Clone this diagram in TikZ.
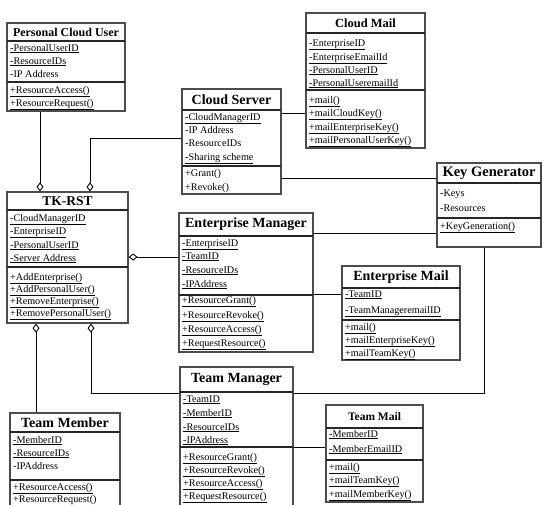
\documentclass[tikz,border=0pt]{standalone}
\usepackage{fontspec}
\setmainfont{Liberation Serif}
\usetikzlibrary{arrows.meta,fit}
\tikzset{
  box/.style={draw=black!70, line width=1.3pt, fill=white, inner sep=0pt},
  sepline/.style={black!85, line width=1.4pt},
  ttl/.style={inner sep=0pt},
  itm/.style={font=\fontsize{10.2}{11}\selectfont, inner sep=0pt, anchor=base west},
  conn/.style={black, line width=0.9pt},
  agg/.style={conn, -{Diamond[open, length=9pt, width=7pt, line width=0.9pt]}},
}
\newcounter{itmc}
\newcommand\umlbox[9]{% name x1 y1 x2 y2 ytitle ysep titlesize title
  \node[box, fit={(#2,#3) (#4,#5)}] (#1) {};
  \draw[sepline] (#2,#6) -- (#4,#6);
  \draw[sepline] (#2,#7) -- (#4,#7);
  \path (#2,#3) -- (#4,#6) node[ttl, midway, font=\bfseries\fontsize{#8}{#8}\selectfont] (#1t) {#9};
}
\newcommand\itm[3]{\stepcounter{itmc}\node[itm] (i\theitmc) at (#1,#2) {#3};}
\newcommand\uu[1]{\underline{#1}}
\begin{document}
\begin{tikzpicture}[x=1pt,y=-1pt]
\clip (0,0) rectangle (543,504);
\fill[white] (0,0) rectangle (543,504);

% Personal Cloud User
\umlbox{pcu}{7}{23}{125}{111}{41}{82}{12}{Personal Cloud User}
\itm{10}{51}{\uu{-PersonalUserID}}
\itm{10}{64}{\uu{-ResourceIDs}}
\itm{10}{77}{-IP Address}
\itm{10}{93}{\uu{+ResourceAccess()}}
\itm{10}{106}{\uu{+ResourceRequest()}}

% Cloud Server
\umlbox{cs}{182}{89}{281}{194}{110}{166}{14}{Cloud Server}
\itm{185}{120}{\uu{-CloudManagerID}}
\itm{185}{133}{-IP Address}
\itm{185}{146}{-ResourceIDs}
\itm{185}{160}{\uu{-Sharing scheme}}
\itm{185}{176}{+Grant()}
\itm{185}{190}{+Revoke()}

% Cloud Mail
\umlbox{cm}{306}{13}{425}{148}{33}{90}{12.5}{Cloud Mail}
\itm{309}{46}{\uu{-EnterpriseID}}
\itm{309}{60}{\uu{-EnterpriseEmailId}}
\itm{309}{73}{\uu{-PersonalUserID}}
\itm{309}{86}{\uu{-PersonalUseremailId}}
\itm{309}{103}{\uu{+mail()}}
\itm{309}{116}{\uu{+mailCloudKey()}}
\itm{309}{130}{\uu{+mailEnterpriseKey()}}
\itm{309}{143}{\uu{+mailPersonalUserKey()}}

% Key Generator
\umlbox{kg}{437}{163}{541}{247}{183}{218}{14.5}{Key Generator}
\itm{440}{196}{-Keys}
\itm{440}{211}{-Resources}
\itm{440}{229}{\uu{+KeyGeneration()}}

% TK-RST
\umlbox{tk}{7}{192}{128}{323}{210}{267}{13.5}{TK-RST}
\itm{10}{221}{\uu{-CloudManagerID}}
\itm{10}{234}{\uu{-EnterpriseID}}
\itm{10}{248}{\uu{-PersonalUserID}}
\itm{10}{261}{\uu{-Server Address}}
\itm{10}{280}{\uu{+AddEnterprise()}}
\itm{10}{292}{\uu{+AddPersonalUser()}}
\itm{10}{304}{\uu{+RemoveEnterprise()}}
\itm{10}{316}{\uu{+RemovePersonalUser()}}

% Enterprise Manager
\umlbox{em}{179}{213}{313}{352}{236}{295}{14}{Enterprise Manager}
\itm{182}{246}{\uu{-EnterpriseID}}
\itm{182}{259}{\uu{-TeamID}}
\itm{182}{273}{\uu{-ResourceIDs}}
\itm{182}{287}{\uu{-IPAddress}}
\itm{182}{303}{\uu{+ResourceGrant()}}
\itm{182}{318}{\uu{+ResourceRevoke()}}
\itm{182}{332}{\uu{+ResourceAccess()}}
\itm{182}{346}{\uu{+RequestResource()}}

% Enterprise Mail
\umlbox{emm}{342}{266}{460}{360}{288}{320}{14}{Enterprise Mail}
\itm{345}{297}{\uu{-TeamID}}
\itm{345}{313}{\uu{-TeamManageremailID}}
\itm{345}{330}{\uu{+mail()}}
\itm{345}{343}{\uu{+mailEnterpriseKey()}}
\itm{345}{356}{\uu{+mailTeamKey()}}

% Team Manager
\umlbox{tm}{180}{367}{293}{507}{392}{447}{14}{Team Manager}
\itm{183}{402}{\uu{-TeamID}}
\itm{183}{416}{\uu{-MemberID}}
\itm{183}{430}{\uu{-ResourceIDs}}
\itm{183}{443}{\uu{-IPAddress}}
\itm{183}{460}{\uu{+ResourceGrant()}}
\itm{183}{473}{\uu{+ResourceRevoke()}}
\itm{183}{486}{\uu{+ResourceAccess()}}
\itm{183}{499}{\uu{+RequestResource()}}

% Team Mail
\umlbox{tml}{326}{405}{423}{502}{428}{460}{11.5}{Team Mail}
\itm{329}{437}{\uu{-MemberID}}
\itm{329}{452}{\uu{-MemberEmailID}}
\itm{329}{470}{\uu{+mail()}}
\itm{329}{483}{\uu{+mailTeamKey()}}
\itm{329}{497}{\uu{+mailMemberKey()}}

% Team Member
\umlbox{tmb}{10}{413}{120}{512}{432}{480}{14}{Team Member}
\itm{13}{443}{\uu{-MemberID}}
\itm{13}{456}{\uu{-ResourceIDs}}
\itm{13}{469}{-IPAddress}
\itm{13}{490}{\uu{+ResourceAccess()}}
\itm{13}{502}{\uu{+ResourceRequest()}}

% helper coordinates
\coordinate (x40) at (40,0);
\coordinate (x90) at (90,0);
\coordinate (x36) at (36,0);
\coordinate (x91) at (91,0);
\coordinate (x484) at (484,0);
\coordinate (y113) at (0,113);
\coordinate (y138) at (0,138);
\coordinate (y178) at (0,178);
\coordinate (y233) at (0,233);
\coordinate (y257) at (0,257);
\coordinate (y294) at (0,294);
\coordinate (y393) at (0,393);
\coordinate (y447) at (0,447);

% connectors
\draw[agg] (pcu.south -| x40) -- (tk.north -| x40);
\draw[agg] (cs.west |- y138) -- (x90 |- y138) -- (tk.north -| x90);
\draw[conn] (cs.east |- y113) -- (cm.west |- y113);
\draw[conn] (cs.east |- y178) -- (kg.west |- y178);
\draw[conn] (em.east |- y233) -- (kg.west |- y233);
\draw[conn] (em.east |- y294) -- (emm.west |- y294);
\draw[agg] (em.west |- y257) -- (tk.east |- y257);
\draw[conn] (kg.south -| x484) -- (x484 |- y393) -- (tm.east |- y393);
\draw[agg] (tm.west |- y393) -- (x91 |- y393) -- (tk.south -| x91);
\draw[agg] (tmb.north -| x36) -- (tk.south -| x36);
\draw[conn] (tm.east |- y447) -- (tml.west |- y447);
\end{tikzpicture}
\end{document}
